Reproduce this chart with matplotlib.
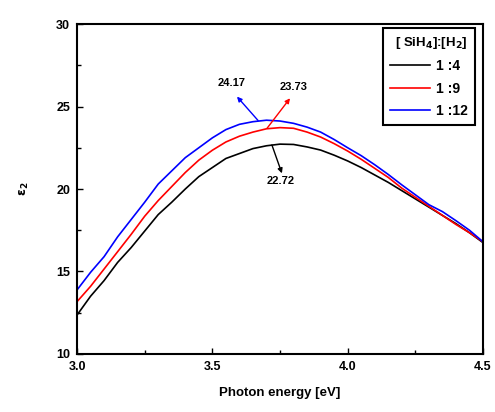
import numpy as np
import matplotlib
matplotlib.use("Agg")
import matplotlib.pyplot as plt
from matplotlib.ticker import MultipleLocator

plt.rcParams['font.family'] = ['Liberation Sans', 'DejaVu Sans']
plt.rcParams['font.weight'] = 'bold'
plt.rcParams['mathtext.default'] = 'bf'

# --- datos (paso 0.05 eV)
energy = [3.00, 3.05, 3.10, 3.15, 3.20, 3.25, 3.30, 3.35, 3.40, 3.45, 3.50,
          3.55, 3.60, 3.65, 3.70, 3.75, 3.80, 3.85, 3.90, 3.95, 4.00,
          4.05, 4.10, 4.15, 4.20, 4.25, 4.30, 4.35, 4.40, 4.45, 4.50]
eps_1_4 = [12.36, 13.5, 14.45, 15.55, 16.45, 17.45, 18.45, 19.2, 20.0, 20.75, 21.3,
           21.85, 22.15, 22.45, 22.62, 22.72, 22.7, 22.55, 22.36, 22.05, 21.7,
           21.3, 20.85, 20.4, 19.9, 19.4, 18.9, 18.4, 17.9, 17.35, 16.75]
eps_1_9 = [13.17, 14.1, 15.15, 16.2, 17.25, 18.35, 19.3, 20.15, 21.0, 21.75, 22.35,
           22.85, 23.2, 23.45, 23.65, 23.72, 23.68, 23.45, 23.15, 22.75, 22.3,
           21.8, 21.25, 20.7, 20.05, 19.5, 18.95, 18.4, 17.85, 17.35, 16.8]
eps_1_12 = [13.88, 14.95, 15.9, 17.1, 18.15, 19.2, 20.3, 21.1, 21.9, 22.5, 23.1,
            23.6, 23.92, 24.08, 24.17, 24.12, 23.98, 23.75, 23.45, 23.0, 22.5,
            22.02, 21.47, 20.88, 20.25, 19.65, 19.05, 18.63, 18.08, 17.5, 16.8]

labels = ["1 :4", "1 :9", "1 :12"]
colors = ["black", "red", "blue"]
series = [eps_1_4, eps_1_9, eps_1_12]

# --- anotaciones de maximos: (texto, punto en curva, punta de flecha, posicion texto)
peaks = [
    ("22.72", (3.72, 22.67), (3.757, 20.95), (3.754, 20.5), "black"),
    ("23.73", (3.702, 23.68), (3.787, 25.5), (3.80, 26.2), "red"),
    ("24.17", (3.669, 24.15), (3.591, 25.6), (3.57, 26.45), "blue"),
]

fig = plt.figure(figsize=(4.95, 4.12), dpi=100)
ax = fig.add_axes([0.1556, 0.1408, 0.8202, 0.8009])

for y, lab, c in zip(series, labels, colors):
    ax.plot(energy, y, color=c, lw=1.2, label=lab)

for txt, tail, head, tpos, c in peaks:
    ax.annotate("", xy=head, xytext=tail,
                arrowprops=dict(arrowstyle="-|>", color=c, lw=1.0,
                                mutation_scale=7, shrinkA=0, shrinkB=0))
    ax.text(tpos[0], tpos[1], txt, fontsize=8, fontweight='bold',
            ha='center', va='center')

ax.set_xlim(3.0, 4.5)
ax.set_ylim(10, 30)
ax.xaxis.set_major_locator(MultipleLocator(0.5))
ax.xaxis.set_minor_locator(MultipleLocator(0.25))
ax.yaxis.set_major_locator(MultipleLocator(5))
ax.yaxis.set_minor_locator(MultipleLocator(2.5))
ax.tick_params(which='both', direction='in', top=False, right=False,
               labelsize=9, width=1.0)
ax.tick_params(which='major', length=4, pad=5)
ax.tick_params(which='minor', length=3)
for s in ax.spines.values():
    s.set_linewidth(1.5)

ax.set_xlabel("Photon energy [eV]", fontsize=9.5, fontweight='bold', labelpad=10)
ax.set_ylabel(r"$\varepsilon_2$", fontsize=9, labelpad=18)

leg = ax.legend(loc='upper right', bbox_to_anchor=(0.980, 0.988),
                title=r"[ SiH$_4$]:[H$_2$]", fontsize=10,
                title_fontsize=9.5, handlelength=2.9, handletextpad=0.45,
                fancybox=False, framealpha=1, edgecolor='black',
                borderaxespad=0, labelspacing=0.6, borderpad=0.5)
leg.get_frame().set_linewidth(1.5)
leg.get_title().set_fontweight('bold')
leg._legend_box.align = "right"
for t in leg.get_texts():
    t.set_fontweight('bold')

fig.savefig("out.png", dpi=100)
